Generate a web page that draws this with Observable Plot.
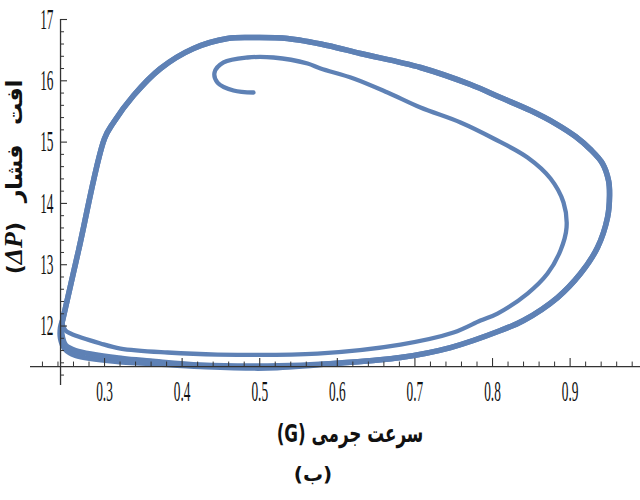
<!DOCTYPE html>
<html>
<head>
<meta charset="utf-8">
<script src="https://cdn.jsdelivr.net/npm/d3@7"></script>
<script src="https://cdn.jsdelivr.net/npm/@observablehq/plot@0.6"></script>
<style>
  html, body { margin: 0; padding: 0; background: #fff; }
  #wrap { position: relative; width: 640px; height: 500px; background: #fff; overflow: hidden; }
  .lab { position: absolute; white-space: nowrap; font-family: "DejaVu Sans", sans-serif; font-weight: bold; color: #111; line-height: 1; }
</style>
</head>
<body>
<div id="wrap">
  <div id="chart"></div>
  <div id="ylab" class="lab" dir="rtl" style="left:14px;top:177px;font-size:22px;word-spacing:12px;transform:translate(-50%,-50%) rotate(-90deg);">افت فشار (<span style="font-family:'Liberation Serif',serif;font-style:italic;font-size:26px;">ΔP</span>)</div>
  <div id="xlab" class="lab" dir="rtl" style="left:350px;top:433px;font-size:25px;transform:translate(-50%,-50%) scale(0.67,1);">سرعت جرمی (G)</div>
  <div id="cap" class="lab" dir="rtl" style="left:313px;top:474px;font-size:20px;transform:translate(-50%,-50%);">(ب)</div>
</div>
<script>
// Transient (first inner loop) : mass velocity G, pressure drop ΔP
const G_transient = [0.4920, 0.4662, 0.4456, 0.4418, 0.4534, 0.4843, 0.5178, 0.5616, 0.5784, 0.6209, 0.6647, 0.7072, 0.7588, 0.8013, 0.8451, 0.8747, 0.8915, 0.8954, 0.8876, 0.8709, 0.8451, 0.8064, 0.7845, 0.7497, 0.6814, 0.5745, 0.4456, 0.3812, 0.3206, 0.2948, 0.2562, 0.2497, 0.2459];
const DP_transient = [15.809, 15.842, 15.972, 16.135, 16.299, 16.380, 16.380, 16.282, 16.201, 16.038, 15.809, 15.564, 15.320, 15.059, 14.749, 14.406, 14.015, 13.607, 13.232, 12.856, 12.530, 12.204, 12.090, 11.894, 11.698, 11.551, 11.535, 11.568, 11.633, 11.715, 11.878, 11.927, 12.041];

// Limit cycle, lap A (inner edge of the band)
const G_lapA = [0.2459, 0.2665, 0.3000, 0.3116, 0.3374, 0.3722, 0.4147, 0.4585, 0.4920, 0.5358, 0.5874, 0.6299, 0.7072, 0.7716, 0.8103, 0.8490, 0.8812, 0.9070, 0.9263, 0.9418, 0.9495, 0.9508, 0.9482, 0.9353, 0.9134, 0.8838, 0.8399, 0.8103, 0.7459, 0.6814, 0.5951, 0.5101, 0.4237, 0.3593, 0.3232, 0.2626, 0.2497, 0.2459, 0.2446, 0.2459];
const DP_lapA = [12.090, 13.232, 15.059, 15.320, 15.760, 16.201, 16.527, 16.690, 16.706, 16.690, 16.576, 16.445, 16.217, 15.939, 15.727, 15.515, 15.303, 15.091, 14.879, 14.651, 14.374, 14.129, 13.770, 13.281, 12.856, 12.465, 12.090, 11.927, 11.649, 11.486, 11.388, 11.348, 11.364, 11.429, 11.470, 11.600, 11.690, 11.812, 11.976, 12.090];

// Limit cycle, lap B (outer edge of the band)
const G_lapB = [0.2459, 0.2665, 0.3000, 0.3116, 0.3374, 0.3722, 0.4147, 0.4585, 0.4920, 0.5358, 0.5874, 0.6299, 0.7072, 0.7716, 0.8103, 0.8490, 0.8812, 0.9070, 0.9263, 0.9418, 0.9495, 0.9508, 0.9482, 0.9353, 0.9134, 0.8838, 0.8399, 0.8103, 0.7459, 0.6814, 0.5951, 0.5101, 0.4237, 0.3593, 0.3232, 0.2626, 0.2485, 0.2433, 0.2433, 0.2459];
const DP_lapB = [12.090, 13.232, 15.059, 15.320, 15.760, 16.201, 16.527, 16.690, 16.706, 16.690, 16.576, 16.445, 16.217, 15.939, 15.727, 15.515, 15.303, 15.091, 14.879, 14.651, 14.374, 14.129, 13.770, 13.281, 12.856, 12.465, 12.090, 11.927, 11.649, 11.486, 11.388, 11.315, 11.339, 11.388, 11.413, 11.519, 11.633, 11.796, 11.976, 12.090];

// Axes
const xMajor = [0.3, 0.4, 0.5, 0.6, 0.7, 0.8, 0.9];
const xTickLabels = ["0.3", "0.4", "0.5", "0.6", "0.7", "0.8", "0.9"];
const yMajor = [12, 13, 14, 15, 16, 17];
const yTickLabels = ["12", "13", "14", "15", "16", "17"];
const xMinor = d3.range(11, 50).map(k => k * 0.02).filter(v => Math.abs(v * 10 - Math.round(v * 10)) > 1e-6);
const yMinor = d3.range(56, 85).map(k => k * 0.2).filter(v => Math.abs(v - Math.round(v)) > 1e-6);
const axisG = 0.2433;   // where the vertical axis crosses
const axisDP = 11.339;  // where the horizontal axis crosses
const xDomain = [0.2046, 0.9907];
const yDomain = [11.03, 17];

const blue = "#5E81B5";
const axisColor = "#333";
const idx = a => d3.range(a.length);

const chart = Plot.plot({
  width: 640,
  height: 410,
  marginLeft: 30,
  marginRight: 0,
  marginTop: 19,
  marginBottom: 25,
  x: {domain: xDomain, axis: null},
  y: {domain: yDomain, axis: null},
  style: {background: "#fff"},
  marks: [
    Plot.line(idx(G_lapB), {x: i => G_lapB[i], y: i => DP_lapB[i], stroke: blue, strokeWidth: 5.5, curve: "catmull-rom"}),
    Plot.line(idx(G_lapA), {x: i => G_lapA[i], y: i => DP_lapA[i], stroke: blue, strokeWidth: 5.5, curve: "catmull-rom"}),
    Plot.line(idx(G_transient), {x: i => G_transient[i], y: i => DP_transient[i], stroke: blue, strokeWidth: 4.3, curve: "catmull-rom"}),
    Plot.ruleY([axisDP], {stroke: axisColor, strokeWidth: 1.3}),
    Plot.ruleX([axisG], {stroke: axisColor, strokeWidth: 1.3}),
    Plot.ruleX(xMajor, {x: d => d, y1: axisDP, y2: axisDP, insetBottom: 8, stroke: axisColor, strokeWidth: 1.1}),
    Plot.ruleX(xMinor, {x: d => d, y1: axisDP, y2: axisDP, insetBottom: 4.5, stroke: axisColor, strokeWidth: 1}),
    Plot.ruleY(yMajor, {y: d => d, x1: axisG, x2: axisG, insetLeft: 7, stroke: axisColor, strokeWidth: 1.1}),
    Plot.ruleY(yMinor, {y: d => d, x1: axisG, x2: axisG, insetLeft: 4, stroke: axisColor, strokeWidth: 1}),
    Plot.text(xMajor, {x: d => d, y: axisDP, dy: 25, text: (d, i) => xTickLabels[i], fontSize: 29, fontFamily: "Liberation Serif, serif", fill: "#111"}),
    Plot.text(yMajor, {x: axisG, y: d => d, dx: -7, textAnchor: "end", text: (d, i) => yTickLabels[i], fontSize: 29, fontFamily: "Liberation Serif, serif", fill: "#111"})
  ]
});
document.getElementById("chart").appendChild(chart);

// condense the tick label glyphs horizontally (narrow serif look)
chart.querySelectorAll('g[aria-label="text"] text').forEach(el => {
  const t = el.getAttribute("transform") || "";
  el.setAttribute("transform", t + " scale(0.46,1)");
});
</script>
</body>
</html>
